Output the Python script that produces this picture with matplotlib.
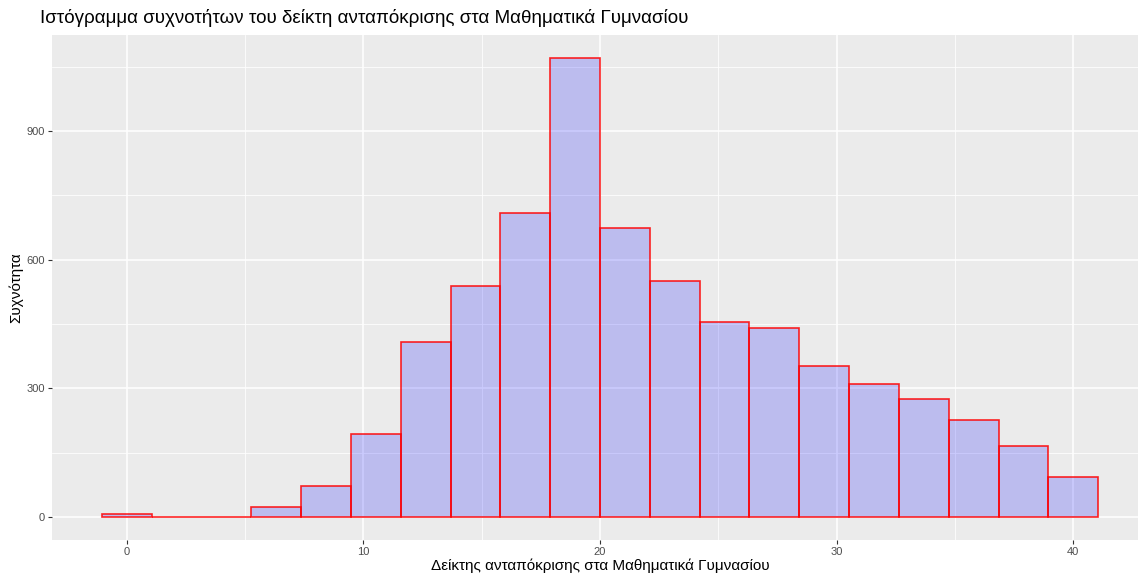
import matplotlib
matplotlib.use("Agg")
import matplotlib.pyplot as plt
import numpy as np

# Data (20 bins spanning 0..40)
bin_centers = [0.0, 2.105, 4.211, 6.316, 8.421, 10.526, 12.632, 14.737, 16.842, 18.947,
               21.053, 23.158, 25.263, 27.368, 29.474, 31.579, 33.684, 35.789, 37.895, 40.0]
counts = [8, 1, 1, 23, 72, 193, 408, 538, 709, 1070,
          674, 550, 455, 441, 352, 310, 275, 226, 166, 93]
x_ticks = [0, 10, 20, 30, 40]
y_ticks = [0, 300, 600, 900]

title = "Ιστόγραμμα συχνοτήτων του δείκτη ανταπόκρισης στα Μαθηματικά Γυμνασίου"
xlabel = "Δείκτης ανταπόκρισης στα Μαθηματικά Γυμνασίου"
ylabel = "Συχνότητα"

plt.rcParams['font.family'] = ['Liberation Sans', 'DejaVu Sans']

W, H = 1138, 574
fig = plt.figure(figsize=(W/100, H/100), dpi=100)
ax = fig.add_axes([52/W, 1-540/H, (1148-52)/W, (540-35)/H])
ax.set_facecolor('#EBEBEB')

width = 40/19
ax.bar(bin_centers, counts, width=width, color=(0, 0, 1, 0.2),
       edgecolor=(1, 0, 0, 0.85), linewidth=1.2, zorder=3)

ax.set_xlim(-1.053 - 2.105, 41.053 + 2.105)
ax.set_ylim(-53.5, 1123.5)
ax.set_xticks(x_ticks)
ax.set_yticks(y_ticks)
ax.set_xticks([5, 15, 25, 35], minor=True)
ax.set_yticks([150, 450, 750, 1050], minor=True)
ax.grid(which='major', color='white', linewidth=1.1, zorder=0)
ax.grid(which='minor', color='white', linewidth=0.55, zorder=0)
ax.set_axisbelow(True)
for s in ax.spines.values():
    s.set_visible(False)
ax.tick_params(which='major', colors='#333333', labelcolor='#4D4D4D', labelsize=8, length=3, width=0.8, pad=2)
ax.tick_params(which='minor', length=0)

fig.text(600/W, 1-566/H, xlabel, fontsize=11, color='black', ha='center', va='center')
fig.text(16/W, 1-288/H, ylabel, fontsize=11, color='black', ha='center', va='center', rotation=90)
fig.text(40/W, 1-18/H, title, fontsize=13.5, va='center', ha='left', color='black')

fig.savefig("out.png", dpi=100, facecolor='white')
